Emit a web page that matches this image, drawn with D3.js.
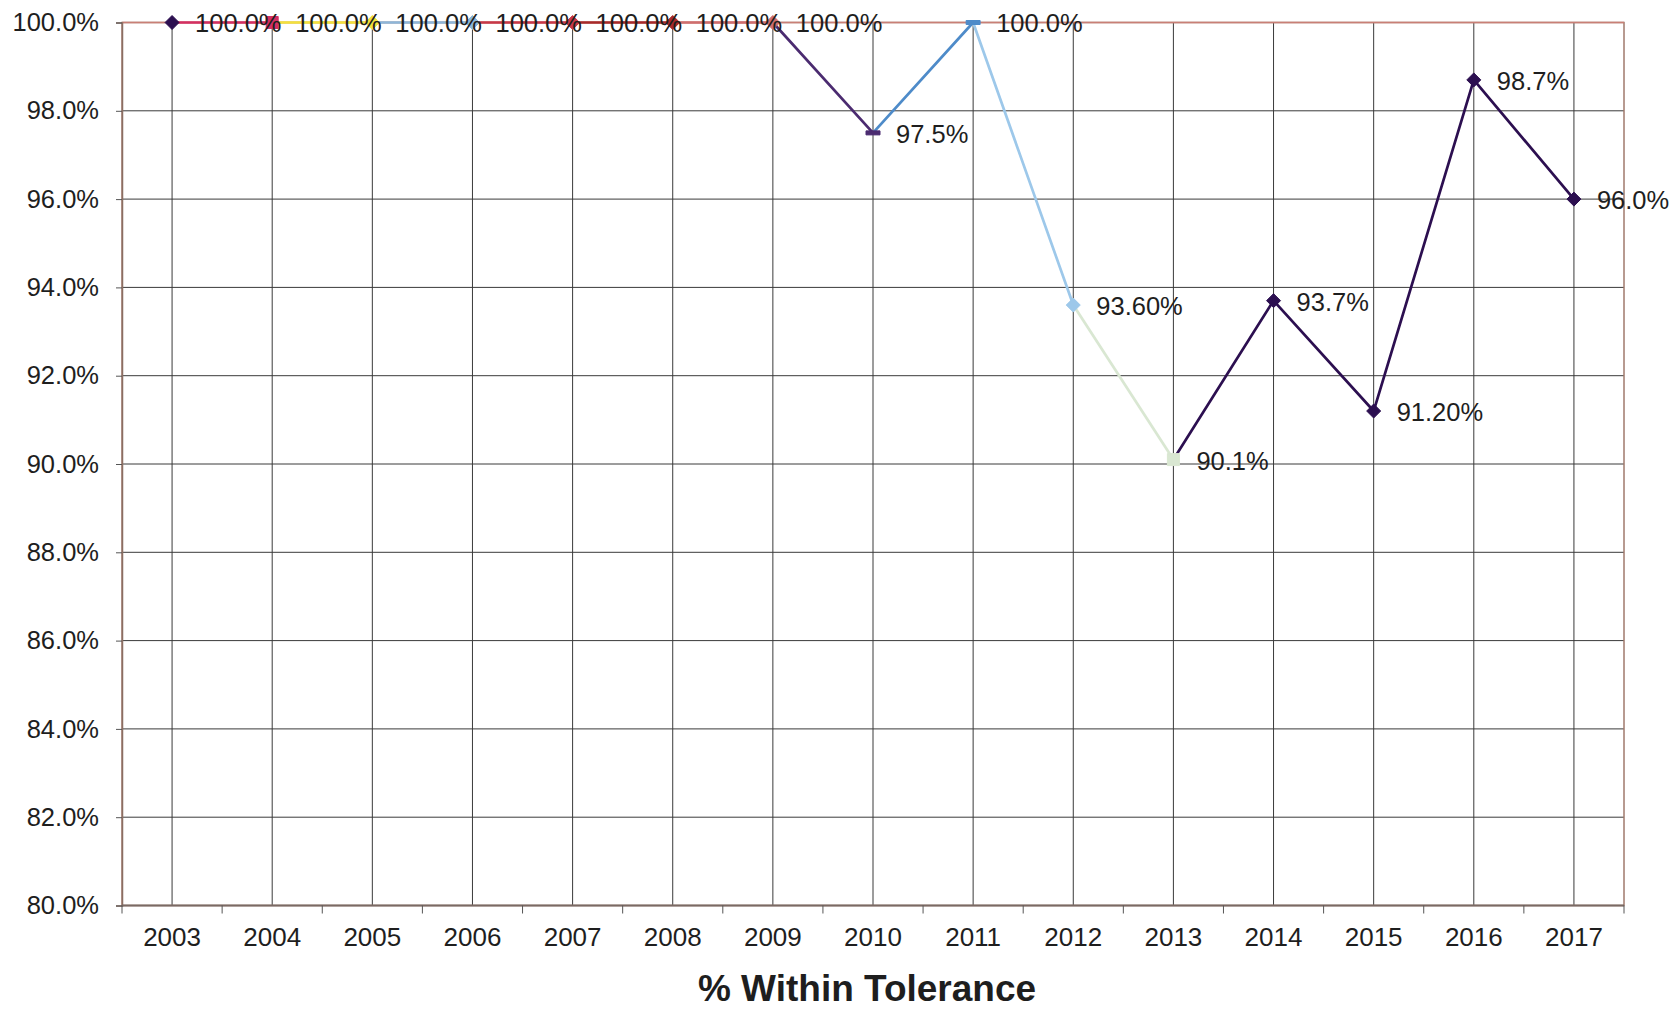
<!DOCTYPE html>
<html>
<head>
<meta charset="utf-8">
<script src="https://cdn.jsdelivr.net/npm/d3@7"></script>
<style>
  html, body { margin: 0; padding: 0; background: #ffffff; }
  svg { display: block; }
  text { font-family: "Liberation Sans", Arial, sans-serif; fill: #1e1e1e; }
</style>
</head>
<body>
<svg id="chart" width="1676" height="1010"></svg>
<script>
// Yearly share of measurements within tolerance
const years = ["2003","2004","2005","2006","2007","2008","2009","2010","2011","2012","2013","2014","2015","2016","2017"];
const values = [100.0, 100.0, 100.0, 100.0, 100.0, 100.0, 100.0, 97.5, 100.0, 93.6, 90.1, 93.7, 91.2, 98.7, 96.0];
// number of decimals shown in each point's label
const labelDecimals = [1, 1, 1, 1, 1, 1, 1, 1, 1, 2, 1, 1, 2, 1, 1];
// per-point colours (each segment takes the colour of the point it runs into)
const pointColors = ["#2c0f50", "#d42f62", "#f3e23c", "#8db7d9", "#c83848", "#a82a2a", "#cf6e6e",
                     "#4b2b70", "#4e8bc9", "#9dc8ea", "#d9e7d2", "#2c0f50", "#2c0f50", "#2c0f50", "#2c0f50"];
const pointShapes = ["diamond", "square", "diamond", "diamond", "diamond", "diamond", "diamond",
                     "dash", "dash", "diamond", "square", "diamond", "diamond", "diamond", "diamond"];
const yTicks = [80, 82, 84, 86, 88, 90, 92, 94, 96, 98, 100];
const axisTitle = "% Within Tolerance";

const svg = d3.select("#chart");
const margin = { left: 122, top: 22.5, right: 52, bottom: 104.5 };
const W = 1676, H = 1010;
const plotW = W - margin.left - margin.right;
const plotH = H - margin.top - margin.bottom;

const x = d3.scaleBand().domain(years).range([0, plotW]).padding(0);
const cx = d => x(d) + x.bandwidth() / 2;
const y = d3.scaleLinear().domain([80, 100]).range([plotH, 0]);

const g = svg.append("g").attr("transform", `translate(${margin.left},${margin.top})`);

// horizontal gridlines
g.append("g").selectAll("line").data(yTicks).join("line")
  .attr("x1", 0).attr("x2", plotW)
  .attr("y1", d => y(d)).attr("y2", d => y(d))
  .attr("stroke", "#3a3a3a").attr("stroke-width", 1);

// vertical gridlines at each year
g.append("g").selectAll("line").data(years).join("line")
  .attr("x1", d => cx(d)).attr("x2", d => cx(d))
  .attr("y1", 0).attr("y2", plotH)
  .attr("stroke", "#3a3a3a").attr("stroke-width", 1);

// plot frame
g.append("rect").attr("x", 0).attr("y", 0).attr("width", plotW).attr("height", plotH)
  .attr("fill", "none").attr("stroke", "#a07a6c").attr("stroke-width", 1.5);
g.append("line").attr("x1", 0).attr("x2", plotW).attr("y1", 0).attr("y2", 0)
  .attr("stroke", "#c97f76").attr("stroke-width", 1.5);

// y axis
const yAxis = d3.axisLeft(y).tickValues(yTicks).tickSize(6).tickPadding(17)
  .tickFormat(d => d.toFixed(1) + "%");
const ya = g.append("g").call(yAxis);
ya.select(".domain").attr("stroke", "#8a6e62").attr("stroke-width", 1.5);
ya.selectAll(".tick line").attr("stroke", "#555");
ya.selectAll(".tick text").attr("font-size", 25.5).attr("fill", "#1e1e1e")
  .attr("font-family", "'Liberation Sans', Arial, sans-serif");

// x axis: ticks between the years, labels centred under each year
const boundaries = years.slice(1).map(d => x(d)).concat([0, plotW]);
const xa = g.append("g").attr("transform", `translate(0,${plotH})`);
xa.append("line").attr("x1", 0).attr("x2", plotW).attr("y1", 0).attr("y2", 0)
  .attr("stroke", "#7a6a64").attr("stroke-width", 2);
xa.selectAll("line.tk").data(boundaries).join("line").attr("class", "tk")
  .attr("x1", d => d).attr("x2", d => d).attr("y1", 0).attr("y2", 8)
  .attr("stroke", "#555").attr("stroke-width", 1);
xa.selectAll("text").data(years).join("text")
  .attr("x", d => cx(d)).attr("y", 31).attr("dy", "0.35em")
  .attr("text-anchor", "middle").attr("font-size", 26).text(d => d);

// line segments, each in the colour of its end point
const line = d3.line().x(d => cx(d.year)).y(d => y(d.value));
const pts = years.map((yr, i) => ({ year: yr, value: values[i], color: pointColors[i], shape: pointShapes[i], dec: labelDecimals[i] }));
const segs = d3.pairs(pts);
g.append("g").selectAll("path").data(segs).join("path")
  .attr("d", d => line(d))
  .attr("fill", "none")
  .attr("stroke", d => d[1].color)
  .attr("stroke-width", 2.7)
  .attr("stroke-linecap", "round");

// markers
const markerPath = shape => {
  if (shape === "diamond") return "M0,-7L7,0L0,7L-7,0Z";
  if (shape === "square") return "M-6,-6H6V6H-6Z";
  return "M-7,-2H7V2H-7Z";
};
g.append("g").selectAll("path").data(pts).join("path")
  .attr("transform", d => `translate(${cx(d.year)},${y(d.value)})`)
  .attr("d", d => markerPath(d.shape))
  .attr("fill", d => d.color)
  .attr("stroke", d => d.color).attr("stroke-width", 1);

// value labels
g.append("g").selectAll("text").data(pts).join("text")
  .attr("x", d => cx(d.year) + 23)
  .attr("y", d => y(d.value) + 1)
  .attr("dy", "0.35em")
  .attr("font-size", 25.5)
  .text(d => d.value.toFixed(d.dec) + "%");

// axis title
svg.append("text")
  .attr("x", margin.left + plotW / 2 - 6)
  .attr("y", 1001)
  .attr("text-anchor", "middle")
  .attr("font-size", 37).attr("font-weight", "bold")
  .text(axisTitle);
</script>
</body>
</html>
